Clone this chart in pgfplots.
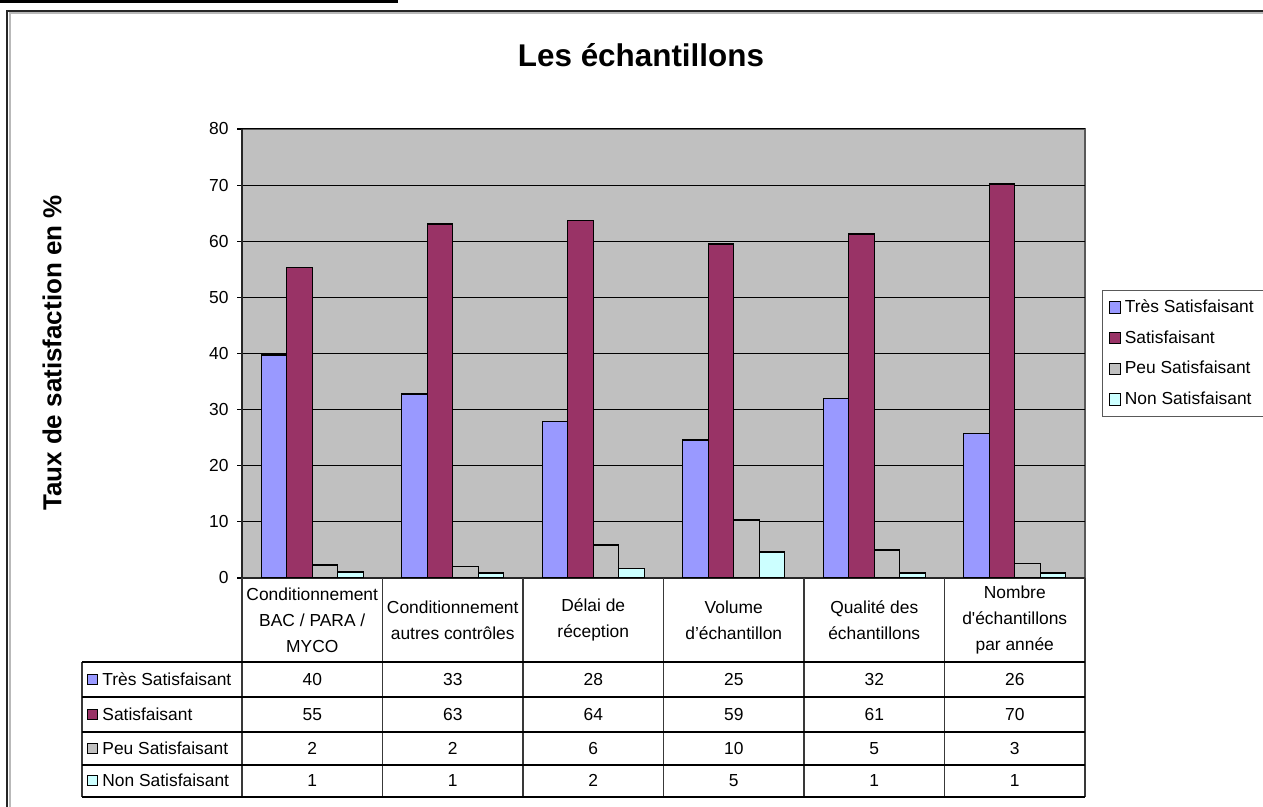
\documentclass[border=0pt]{standalone}
\usepackage{pgfplots}
\pgfplotsset{compat=1.18}
\usepackage{fontspec}
\setmainfont{Liberation Sans}
\definecolor{tres}{HTML}{9999FF}
\definecolor{sat}{HTML}{993366}
\definecolor{peu}{HTML}{C0C0C0}
\definecolor{non}{HTML}{CCFFFF}
\definecolor{plotgray}{HTML}{C0C0C0}
\newcommand{\sm}{\fontsize{8.7}{13}\selectfont}
\begin{document}
\begin{tikzpicture}[x=0.5pt,y=0.5pt]
\useasboundingbox (0,0) rectangle (1263,807);
\clip (0,0) rectangle (1263,807);
\begin{scope}[shift={(0,807)}, y=-0.5pt]
% outer frame
\draw[gray!55, line width=1pt] (9.5,807) -- (9.5,13.5) -- (1263,13.5);
\draw[black!85, line width=0.8pt] (7,807) -- (7,11) -- (1263,11);
\draw[black, line width=1.5pt] (0,1.5) -- (398,1.5);
% titles
\node[font=\bfseries\fontsize{15.7}{18}\selectfont] at (641,55) {Les échantillons};
\node[rotate=90, font=\bfseries\fontsize{13}{15}\selectfont] at (52,353) {Taux de satisfaction en \%};
\end{scope}

\begin{axis}[
  at={(121pt,114.5pt)}, anchor=south west, scale only axis,
  width=421.5pt, height=224.5pt,
  xmin=-0.5, xmax=5.5, ymin=0, ymax=80,
  ytick={0,10,...,80}, xtick=\empty,
  ymajorgrids, grid style={black, line width=0.5pt},
  axis background/.style={fill=plotgray, draw=gray!70!black, line width=0.6pt},
  axis x line*=bottom, axis y line*=left,
  axis line style={-, black!85, line width=0.9pt},
  tick align=outside, major tick length=2.5pt,
  ytick style={black, line width=0.6pt},
  yticklabel style={font=\sm, inner sep=0pt, xshift=-4pt},
  /pgf/number format/assume math mode=true,
  ybar, bar width=12.75pt, ybar=0pt,
  legend style={at={(axis description cs:1.0202,0.6414)}, anchor=north west,
    draw=gray!70!black, line width=0.6pt, font=\sm,
    inner xsep=3pt, inner ysep=2.5pt, row sep=3.5pt,
    cells={anchor=west}},
  legend image code/.code={\draw[#1, line width=0.5pt] (0pt,-2.8pt) rectangle (5.6pt,2.8pt);},
]
\addplot[fill=tres, draw=black, line width=0.7pt] coordinates {(0,39.7) (1,32.8) (2,27.9) (3,24.6) (4,32.0) (5,25.7)};
\addplot[fill=sat, draw=black, line width=0.7pt] coordinates {(0,55.3) (1,63.1) (2,63.7) (3,59.5) (4,61.3) (5,70.2)};
\addplot[fill=peu, draw=black, line width=0.7pt] coordinates {(0,2.3) (1,2.0) (2,5.9) (3,10.3) (4,5.0) (5,2.6)};
\addplot[fill=non, draw=black, line width=0.7pt] coordinates {(0,1.1) (1,0.9) (2,1.7) (3,4.6) (4,0.9) (5,0.9)};
\legend{Très Satisfaisant, Satisfaisant, Peu Satisfaisant, Non Satisfaisant}
\end{axis}

\begin{scope}[shift={(0,807)}, y=-0.5pt]
% data table
\foreach \k in {0,...,6} \draw[gray!45!black, line width=0.8pt] ({242+\k*140.5},578) -- ({242+\k*140.5},797);
\draw[gray!45!black, line width=0.8pt] (82,662) -- (82,797);
\foreach \y in {662,697,732,765,797} \draw[black, line width=0.7pt] (82,\y) -- (1085,\y);
% header labels
\foreach \k/\t in {0/{Conditionnement\\BAC / PARA /\\MYCO},
                   1/{Conditionnement\\autres contrôles},
                   2/{Délai de\\réception},
                   3/{Volume\\d’échantillon},
                   4/{Qualité des\\échantillons},
                   5/{Nombre\\d\textquotesingle échantillons\\par année}}
  \node[font=\sm, align=center, inner sep=0pt] at ({312.25+\k*140.5},620) {\t};
% row labels
\foreach \y/\c/\t in {679.5/tres/Très Satisfaisant, 714.5/sat/Satisfaisant, 748.5/peu/Peu Satisfaisant, 781/non/Non Satisfaisant}{
  \draw[fill=\c, draw=black, line width=0.5pt] (87.5,\y-5) rectangle (97.5,\y+5);
  \node[font=\sm, anchor=base west, inner sep=0pt] at (102,\y+6) {\t};
}
% values
\foreach \y/\vals in {679.5/{40,33,28,25,32,26}, 714.5/{55,63,64,59,61,70}, 748.5/{2,2,6,10,5,3}, 781/{1,1,2,5,1,1}}{
  \foreach \v [count=\i from 0] in \vals
    \node[font=\sm, anchor=base, inner sep=0pt] at ({312.25+\i*140.5},\y+6) {\v};
}
\end{scope}
\end{tikzpicture}
\end{document}
